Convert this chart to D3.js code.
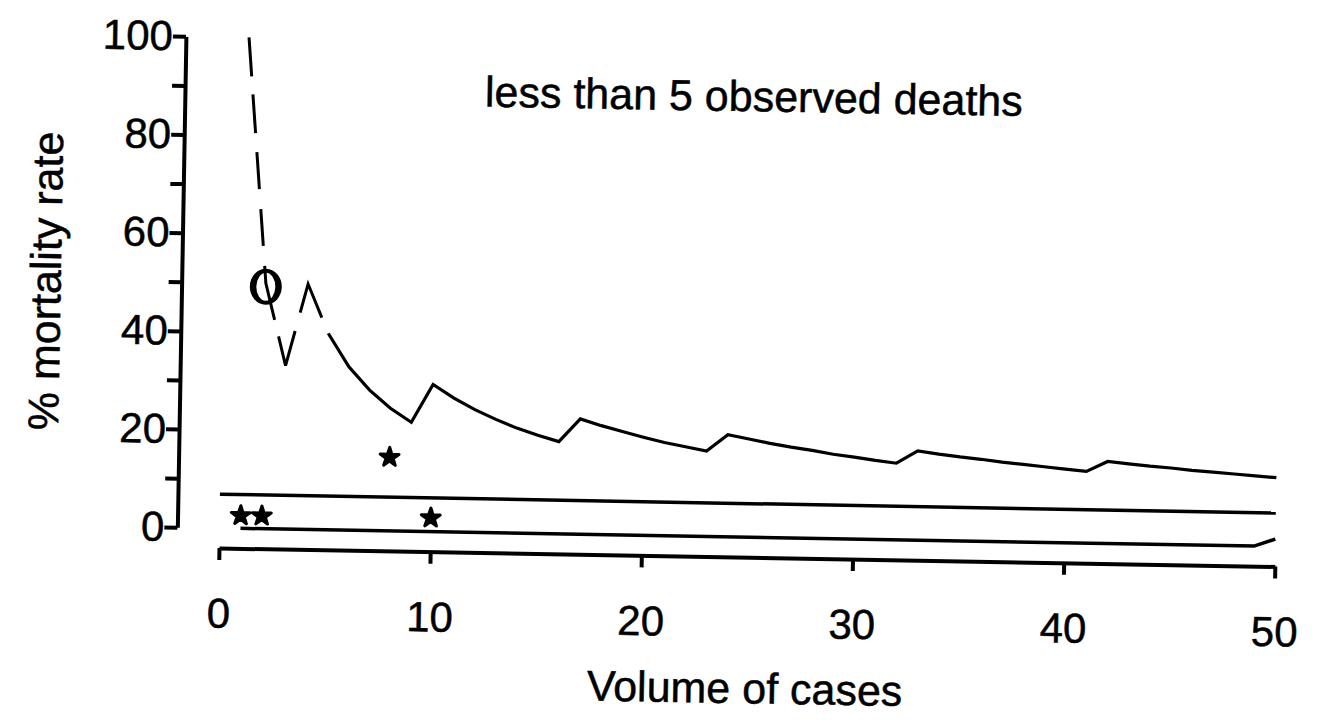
<!DOCTYPE html>
<html>
<head>
<meta charset="utf-8">
<script src="https://cdn.jsdelivr.net/npm/d3@7"></script>
<style>
	body { margin: 0; background: #fff; }
	text { font-family: "Liberation Sans", Arial, sans-serif; fill: #000; stroke: #000; stroke-width: 0.5; }
</style>
</head>
<body>
<svg id="canvas" width="1326" height="727"></svg>
<script>
// volume of cases 1..50 and the upper curve
const cases = d3.range(1, 51);
const upperRate = [100, 50, 33.3, 50, 40, 33.3, 28.6, 25, 22.2, 30,
	27.3, 25, 23.1, 21.4, 20, 18.8, 23.5, 22.2, 21.1, 20,
	19, 18.2, 17.4, 20.8, 20, 19.2, 18.5, 17.9, 17.2, 16.7,
	16.1, 15.6, 18.2, 17.6, 17.1, 16.7, 16.2, 15.8, 15.4, 15,
	14.6, 16.7, 16.3, 15.9, 15.6, 15.2, 14.9, 14.6, 14.3, 14];

const middleCases = [0, 50];
const middleRate = [6.9, 6.8];

const lowerCases = [1, 49, 50];
const lowerRate = [0, 0, 1.5];

const starCases = [8, 1, 2, 10];
const starRate = [15, 2.6, 2.6, 2.8];

const ringCases = [2];
const ringRate = [49.3];

const xTicks = [0, 10, 20, 30, 40, 50];
const yTicks = [0, 10, 20, 30, 40, 50, 60, 70, 80, 90, 100];

const title = "less than 5 observed deaths";
const xTitle = "Volume of cases";
const yTitle = "% mortality rate";

let canvas = d3.select("#canvas");

let x = d3.scaleLinear().domain([0, 50]).range([219, 1275]);
let y = d3.scaleLinear().domain([0, 100]).range([528, 37]);

// the scan is turned about one degree clockwise
let g = canvas.append("g")
		.attr("transform", "rotate(1 219 548)");

let line = d3.line()
		.x((d) => x(d[0]))
		.y((d) => y(d[1]));

let yAxis = g.append("g")
		.attr("transform", "translate(177,0)")
		.call(d3.axisLeft(y)
				.tickValues(yTicks)
				.tickSize(13)
				.tickSizeOuter(0)
				.tickPadding(0)
				.tickFormat((d) => d % 20 === 0 ? d : ""));

let xAxis = g.append("g")
		.attr("transform", "translate(0,548)")
		.call(d3.axisBottom(x)
				.tickValues(xTicks)
				.tickSize(12)
				.tickSizeOuter(0)
				.tickPadding(38));

g.selectAll(".domain, .tick line")
		.attr("stroke", "#000")
		.attr("stroke-width", 4);

g.selectAll(".tick text")
		.style("font-size", "42px");

let upper = cases.map((c, i) => [c, upperRate[i]]);

// open ring drawn under the dashed part
ringCases.forEach((c, i) => {
	g.append("ellipse")
			.attr("cx", x(c))
			.attr("cy", y(ringRate[i]))
			.attr("rx", 16)
			.attr("ry", 18)
			.attr("fill", "#000");
	g.append("ellipse")
			.attr("cx", x(c))
			.attr("cy", y(ringRate[i]))
			.attr("rx", 9.5)
			.attr("ry", 14)
			.attr("fill", "#fff");
});

g.append("path")
		.attr("d", line(upper.filter((d) => d[0] <= 5)))
		.attr("fill", "none")
		.attr("stroke", "#000")
		.attr("stroke-width", 3)
		.attr("stroke-dasharray", "39 18 39 19 37 20 37 20 55 17 66 19 66 17");

g.append("path")
		.attr("d", line(upper.filter((d) => d[0] >= 5)))
		.attr("fill", "none")
		.attr("stroke", "#000")
		.attr("stroke-width", 3.2);

g.append("path")
		.attr("d", line(middleCases.map((c, i) => [c, middleRate[i]])))
		.attr("fill", "none")
		.attr("stroke", "#000")
		.attr("stroke-width", 3.5);

g.append("path")
		.attr("d", line(lowerCases.map((c, i) => [c, lowerRate[i]])))
		.attr("fill", "none")
		.attr("stroke", "#000")
		.attr("stroke-width", 3.5);

g.selectAll(".star")
		.data(starCases)
		.enter()
		.append("path")
		.attr("class", "star")
		.attr("d", d3.symbol(d3.symbolStar, 110))
		.attr("transform", (c, i) => `translate(${x(c)},${y(starRate[i])})`)
		.attr("fill", "#000")
		.attr("stroke", "#000")
		.attr("stroke-width", 3)
		.attr("stroke-linejoin", "round");

g.append("text")
		.attr("x", 477)
		.attr("y", 102)
		.style("font-size", "43px")
		.text(title);

g.append("text")
		.attr("x", 747)
		.attr("y", 694)
		.attr("text-anchor", "middle")
		.style("font-size", "43px")
		.text(xTitle);

g.append("text")
		.attr("transform", "translate(56,284) rotate(-90)")
		.attr("text-anchor", "middle")
		.style("font-size", "43px")
		.text(yTitle);
</script>
</body>
</html>
